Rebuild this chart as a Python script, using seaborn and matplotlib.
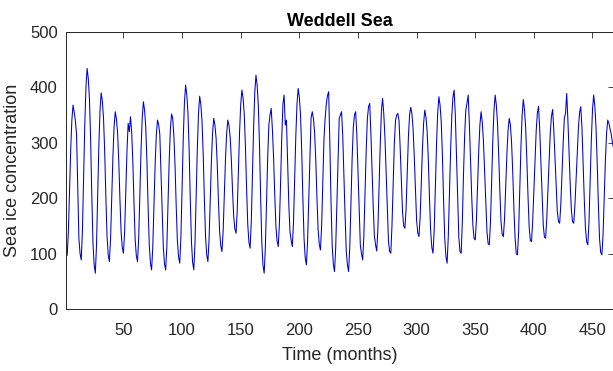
import numpy as np
import pandas as pd
import matplotlib
matplotlib.use("Agg")
import matplotlib.pyplot as plt
import seaborn as sns

# Monthly Weddell Sea ice concentration, one row per year (12 months each)
conc_years_01_10 = [
    [100, 97, 138, 211, 287, 341, 368, 355, 340, 315, 225, 128],
    [100, 89, 141, 234, 331, 400, 434, 416, 379, 305, 205, 120],
    [80, 65, 114, 202, 293, 358, 390, 375, 344, 284, 202, 132],
    [98, 86, 127, 199, 275, 329, 356, 343, 318, 267, 198, 139],
    [111, 101, 140, 210, 285, 335, 320, 347, 320, 265, 190, 125],
    [96, 86, 129, 207, 288, 345, 374, 359, 329, 268, 186, 117],
    [83, 71, 112, 184, 260, 314, 341, 333, 315, 247, 174, 112],
    [82, 71, 113, 189, 268, 324, 352, 344, 312, 258, 185, 123],
    [94, 83, 131, 218, 308, 372, 404, 387, 354, 288, 198, 121],
    [84, 71, 118, 203, 290, 353, 384, 369, 339, 280, 199, 131],
]
conc_years_11_20 = [
    [98, 86, 125, 194, 267, 318, 344, 332, 308, 260, 195, 140],
    [114, 104, 140, 204, 270, 317, 341, 331, 310, 270, 215, 168],
    [145, 137, 176, 245, 318, 369, 395, 381, 352, 295, 218, 153],
    [121, 110, 157, 241, 328, 391, 422, 404, 368, 297, 201, 119],
    [79, 65, 110, 190, 273, 332, 350, 362, 325, 275, 208, 150],
    [123, 113, 154, 228, 310, 370, 386, 332, 341, 265, 190, 140],
    [124, 113, 156, 233, 313, 370, 398, 382, 350, 287, 201, 128],
    [93, 80, 121, 196, 273, 345, 356, 344, 319, 269, 202, 144],
    [117, 107, 150, 227, 307, 345, 370, 385, 392, 300, 195, 115],
    [81, 68, 111, 189, 270, 344, 350, 356, 313, 241, 169, 105],
]
conc_years_21_30 = [
    [80, 68, 111, 189, 270, 327, 350, 356, 316, 249, 177, 116],
    [100, 89, 131, 207, 286, 343, 365, 371, 318, 251, 185, 132],
    [116, 105, 146, 221, 298, 358, 380, 352, 310, 246, 179, 123],
    [104, 101, 151, 227, 298, 340, 350, 353, 340, 290, 230, 175],
    [150, 146, 180, 245, 310, 350, 364, 352, 325, 275, 215, 160],
    [138, 131, 165, 227, 291, 336, 359, 346, 320, 269, 199, 140],
    [111, 101, 143, 219, 298, 355, 383, 368, 338, 278, 197, 128],
    [95, 83, 130, 208, 286, 348, 383, 395, 351, 277, 198, 130],
    [104, 101, 158, 244, 315, 360, 372, 386, 334, 269, 203, 151],
    [128, 125, 160, 222, 287, 333, 356, 337, 303, 248, 188, 140],
]
conc_years_31_39 = [
    [118, 116, 157, 229, 305, 359, 386, 368, 335, 279, 213, 157],
    [135, 131, 163, 221, 280, 323, 344, 332, 300, 246, 179, 128],
    [100, 98, 140, 216, 294, 350, 378, 360, 327, 270, 204, 148],
    [124, 122, 159, 215, 273, 322, 354, 366, 323, 266, 204, 152],
    [130, 128, 163, 216, 272, 318, 348, 360, 323, 274, 221, 176],
    [158, 155, 190, 244, 300, 345, 353, 389, 342, 284, 225, 178],
    [158, 155, 187, 235, 285, 327, 355, 365, 328, 265, 198, 146],
    [122, 116, 157, 229, 305, 359, 386, 366, 328, 265, 190, 127],
    [102, 98, 134, 200, 268, 317, 341, 335, 325, 315, 300, 290],
]

x_ticks = [50, 100, 150, 200, 250, 300, 350, 400, 450]
y_ticks = [0, 100, 200, 300, 400, 500]

values = np.concatenate([np.ravel(block) for block in
                         (conc_years_01_10, conc_years_11_20,
                          conc_years_21_30, conc_years_31_39)])
df = pd.DataFrame({"month": np.arange(1, len(values) + 1), "conc": values})

sns.set_theme(style="white")
plt.rcParams["font.family"] = ["Liberation Sans", "DejaVu Sans"]

ink = "#262626"
fig = plt.figure(figsize=(6.13, 3.71), dpi=100)
ax = fig.add_axes([66 / 613, 61.7 / 371, 547.6 / 613, 277.5 / 371])

sns.lineplot(data=df, x="month", y="conc", ax=ax, color="#0000cc",
             linewidth=0.75, antialiased=True)

ax.set_xlim(1, len(values))
ax.set_ylim(0, 500)
ax.set_xticks(x_ticks)
ax.set_yticks(y_ticks)
ax.tick_params(axis="both", which="both", direction="in", length=4.5,
               width=0.6, color=ink, labelcolor=ink, labelsize=12,
               top=True, right=True, pad=6)
ax.tick_params(axis="x", pad=10)
for s in ax.spines.values():
    s.set_visible(True)
    s.set_color(ink)
    s.set_linewidth(0.7)

ax.set_xlabel("Time (months)", fontsize=13, color=ink, labelpad=6.5)
ax.set_ylabel("Sea ice concentration", fontsize=13, color=ink, labelpad=6)
ax.set_title("Weddell Sea", fontsize=13, fontweight="bold", color="black", pad=4)
ax.grid(False)

fig.savefig("out.png", dpi=100, facecolor="white")
